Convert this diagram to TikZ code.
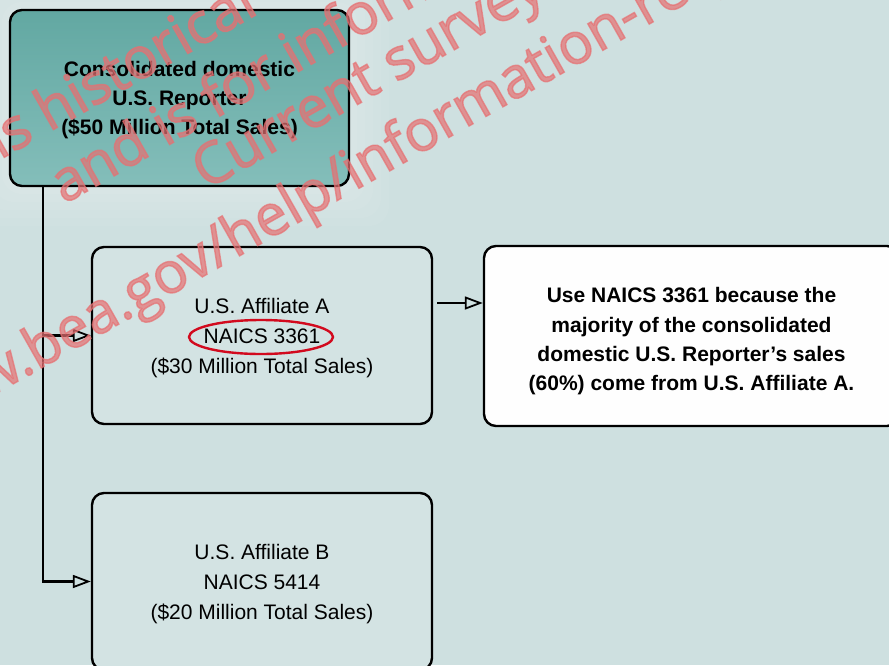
\documentclass[tikz,border=0pt]{standalone}
\usepackage{fontspec}
\setmainfont{Liberation Sans}
\newfontfamily\markfont[FakeBold=2.5]{Open Sans}
\usetikzlibrary{arrows.meta}

\definecolor{backdrop}{RGB}{206,224,224}
\definecolor{paleboxfill}{RGB}{211,227,227}
\definecolor{tealdark}{RGB}{98,168,162}
\definecolor{teallight}{RGB}{132,190,186}
\definecolor{ringred}{RGB}{210,10,30}
\definecolor{stampred}{RGB}{230,112,114}

\begin{document}
\begin{tikzpicture}[
    x=1pt, y=-1pt,
    box/.style={draw, line width=2.4pt, rounded corners=12pt, align=center,
      minimum width=340pt, minimum height=177pt, text depth=-2.5pt,
      font=\fontsize{21}{30}\selectfont},
    bold box/.style={box, font=\fontsize{21}{29.3}\selectfont\bfseries},
    link/.style={line width=2.4pt,
      -{Triangle[open, line width=1.8pt, length=18pt, width=13pt]}},
    stamp/.style={anchor=base west, rotate=29.5, text=stampred, opacity=0.7,
      font=\markfont\fontsize{57}{68}\selectfont}
  ]
  \path[use as bounding box] (0,0) rectangle (889,665);
  \clip (0,0) rectangle (889,665);
  \fill[backdrop] (0,0) rectangle (889,665);
  % Soft glow behind the reporter box.
  \foreach \grow in {8,16,...,40}
    \fill[white, opacity=0.05, rounded corners=20pt]
      (10-\grow,10-\grow) rectangle (349+\grow,186+\grow);
  % Reporter and its affiliates.
  \node[bold box, top color=tealdark, bottom color=teallight, text depth=-1.5pt,
    minimum width=339pt, minimum height=176pt] (reporter) at (179.5,98)
    {Consolidated domestic\\U.S. Reporter\\(\$50 Million Total Sales)};
  \node[box, fill=paleboxfill] (affA) at (262,335.5)
    {U.S. Affiliate A\\NAICS 3361\\(\$30 Million Total Sales)};
  \node[box, fill=paleboxfill] (affB) at (262,581.5)
    {U.S. Affiliate B\\NAICS 5414\\(\$20 Million Total Sales)};
  \node[bold box, fill=white!97!backdrop, text depth=-5.5pt,
    minimum width=415pt, minimum height=180pt] (note) at (691.5,336)
    {\rule{0pt}{21.5pt}Use NAICS 3361 because the\\majority of the consolidated\\
     domestic U.S. Reporter’s sales\\(60\%) come from U.S. Affiliate A.};
  \draw[ringred, line width=2.4pt] (261,337) ellipse [x radius=72, y radius=17];
  % Connectors.
  \coordinate (trunk) at (43,186);
  \coordinate (tail) at (437,303);
  \draw[link] (trunk) |- (affA.west);
  \draw[link] (trunk) |- (affB.west);
  \draw[link] (tail) -- (tail -| note.west);
  % Watermark.
  \node[stamp] (mark1) at (-110,222) {This is historical};
  \node[stamp] (mark2) at (61,206) {and is for informational};
  \node[stamp] (mark3) at (203,192) {Current survey};
  \node[stamp] (mark4) at (-93,444) {www.bea.gov/help/information-requests};
\end{tikzpicture}
\end{document}
